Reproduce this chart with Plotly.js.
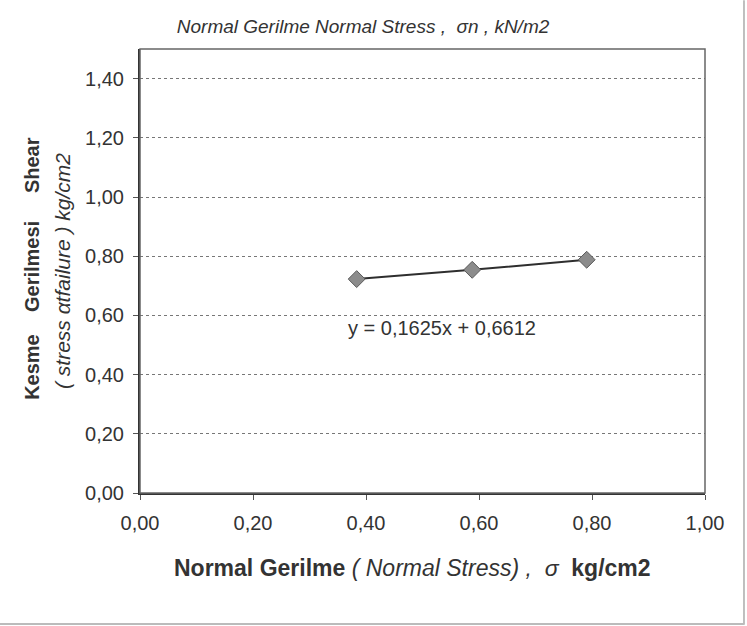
<!DOCTYPE html>
<html>
<head>
<meta charset="utf-8">
<script src="https://cdn.plot.ly/plotly-3.0.1.min.js"></script>
<style>html,body{margin:0;padding:0;background:#fff;}#chart{width:747px;height:626px;}</style>
</head>
<body>
<div id="chart"></div>
<script>
// Data
const normalStress = [0.3835, 0.588, 0.7906];
const shearStress = [0.7227, 0.754, 0.788];
const xTicks = [0, 0.2, 0.4, 0.6, 0.8, 1.0];
const yTicks = [0, 0.2, 0.4, 0.6, 0.8, 1.0, 1.2, 1.4];
const chartTitle = 'Normal Gerilme Normal Stress ,&nbsp;&nbsp;σn , kN/m2';
const xTitle = '<b>Normal Gerilme</b> <i>( Normal Stress) ,&nbsp;&nbsp;σ</i>&nbsp;&nbsp;<b>kg/cm2</b>';
const yTitle1 = '<b>Kesme&nbsp;&nbsp;&nbsp;&nbsp;Gerilmesi&nbsp;&nbsp;&nbsp;&nbsp;&nbsp;Shear</b>';
const yTitle2 = '<i>( stress αtfailure ) kg/cm2</i>';
const eqText = 'y = 0,1625x + 0,6612';

const trace = {
  x: normalStress, y: shearStress, type: 'scatter', mode: 'lines+markers',
  line: {color: '#2e2e2e', width: 2},
  marker: {symbol: 'diamond', size: 13, color: '#8c8c8c', line: {color: '#5a5a5a', width: 1}},
  hoverinfo: 'skip', showlegend: false
};

const layout = {
  width: 747, height: 626,
  margin: {l: 140, r: 42, t: 49, b: 133},
  paper_bgcolor: '#fff', plot_bgcolor: '#fff',
  separators: ',.',
  font: {family: 'Liberation Sans, Arial, sans-serif', color: '#333'},
  title: {text: '<i>' + chartTitle + '</i>', x: 0.486, xanchor: 'center', y: 0.958, yanchor: 'middle',
          font: {size: 19, color: '#333'}},
  xaxis: {
    range: [0, 1.0], tickvals: xTicks, tickformat: '.2f',
    showgrid: false, zeroline: false,
    showline: true, linecolor: '#333', linewidth: 2,
    ticks: 'outside', ticklen: 5, tickcolor: '#555',
    ticklabelstandoff: 6,
    tickfont: {size: 20, color: '#333'}
  },
  yaxis: {
    range: [0, 1.5], tickvals: yTicks, tickformat: '.2f',
    showgrid: true, gridcolor: '#777', gridwidth: 1, griddash: 'dot',
    zeroline: false,
    showline: true, linecolor: '#333', linewidth: 2,
    ticks: 'outside', ticklen: 5, tickcolor: '#555',
    ticklabelstandoff: 5,
    tickfont: {size: 20, color: '#333'}
  },
  shapes: [
    {type: 'rect', xref: 'paper', yref: 'paper', x0: 0, x1: 1, y0: 0, y1: 1,
     line: {color: '#666', width: 1.5}},
    {type: 'line', xref: 'paper', yref: 'paper', x0: 1.069, x1: 1.069, y0: -0.297, y1: 1.11,
     line: {color: '#aaa', width: 1.5}},
    {type: 'line', xref: 'paper', yref: 'paper', x0: -0.25, x1: 1.069, y0: -0.295, y1: -0.295,
     line: {color: '#bbb', width: 2}}
  ],
  annotations: [
    {text: eqText, x: 0.535, y: 0.558, xref: 'x', yref: 'y', showarrow: false,
     font: {size: 20, color: '#333'}},
    {text: xTitle, xref: 'paper', yref: 'paper', x: 0.482, y: -0.17,
     xanchor: 'center', yanchor: 'middle', showarrow: false,
     font: {size: 23, color: '#333'}},
    {text: yTitle1, textangle: -90, xref: 'paper', yref: 'paper', x: -0.191, y: 0.505,
     xanchor: 'center', yanchor: 'middle', showarrow: false,
     font: {size: 20, color: '#333'}},
    {text: yTitle2, textangle: -90, xref: 'paper', yref: 'paper', x: -0.138, y: 0.5,
     xanchor: 'center', yanchor: 'middle', showarrow: false,
     font: {size: 21, color: '#333'}}
  ]
};

Plotly.newPlot('chart', [trace], layout, {displayModeBar: false, staticPlot: true});
</script>
</body>
</html>
